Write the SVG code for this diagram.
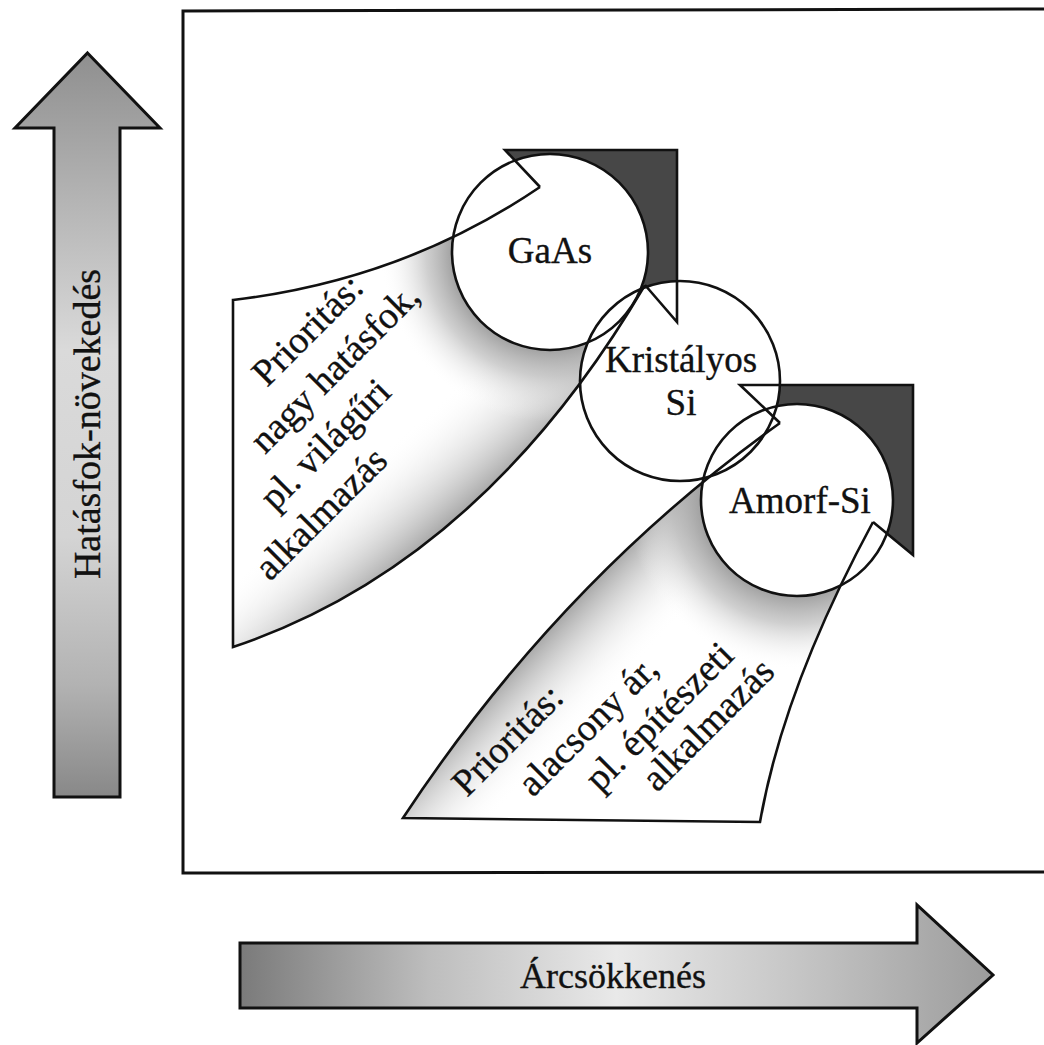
<svg xmlns="http://www.w3.org/2000/svg" width="1044" height="1045" viewBox="0 0 1044 1045">
<style>
  .lbl { font-family: "Liberation Serif", "Times New Roman", serif; fill: #111; stroke: #111; stroke-width: 0.35; }
  .big { font-size: 37px; }
  .rot { font-size: 38px; }
  .out { fill: none; stroke: #111; stroke-width: 2.6; stroke-linejoin: miter; }
  .ring { fill: none; stroke: #111; stroke-width: 2.6; }
  .cfill { fill: #fff; stroke: none; }
  .band { fill: #474747; stroke: none; }
  .arrow { stroke: #111; stroke-width: 3; stroke-linejoin: miter; }
</style>
<defs>
  <linearGradient id="gY" gradientUnits="userSpaceOnUse" x1="0" y1="53" x2="0" y2="797">
    <stop offset="0" stop-color="#8f8f8f"/>
    <stop offset="0.15" stop-color="#ababab"/>
    <stop offset="0.4" stop-color="#dadada"/>
    <stop offset="0.65" stop-color="#d4d4d4"/>
    <stop offset="0.85" stop-color="#b2b2b2"/>
    <stop offset="1" stop-color="#888888"/>
  </linearGradient>
  <linearGradient id="gX" gradientUnits="userSpaceOnUse" x1="240" y1="0" x2="993" y2="0">
    <stop offset="0" stop-color="#7a7a7a"/>
    <stop offset="0.25" stop-color="#bdbdbd"/>
    <stop offset="0.5" stop-color="#e9e9e9"/>
    <stop offset="0.75" stop-color="#c4c4c4"/>
    <stop offset="1" stop-color="#9c9c9c"/>
  </linearGradient>
  <linearGradient id="gHiLin" gradientUnits="userSpaceOnUse" x1="460" y1="515" x2="395" y2="440">
    <stop offset="0" stop-color="#a8a8a8" stop-opacity="1"/>
    <stop offset="1" stop-color="#ffffff" stop-opacity="0"/>
  </linearGradient>
  <radialGradient id="gHiRad" gradientUnits="userSpaceOnUse" cx="550" cy="252" r="200">
    <stop offset="0.48" stop-color="#9e9e9e" stop-opacity="1"/>
    <stop offset="0.62" stop-color="#bbbbbb" stop-opacity="0.7"/>
    <stop offset="0.85" stop-color="#ffffff" stop-opacity="0"/>
  </radialGradient>
  <linearGradient id="gLoLin" gradientUnits="userSpaceOnUse" x1="576" y1="600" x2="640" y2="660">
    <stop offset="0" stop-color="#a8a8a8" stop-opacity="1"/>
    <stop offset="1" stop-color="#ffffff" stop-opacity="0"/>
  </linearGradient>
  <radialGradient id="gLoRad" gradientUnits="userSpaceOnUse" cx="797" cy="500" r="200">
    <stop offset="0.47" stop-color="#9e9e9e" stop-opacity="1"/>
    <stop offset="0.62" stop-color="#bbbbbb" stop-opacity="0.7"/>
    <stop offset="0.85" stop-color="#ffffff" stop-opacity="0"/>
  </radialGradient>
</defs>

<rect x="0" y="0" width="1044" height="1045" fill="#fff"/>

<g id="frame">
  <polyline points="1044,9 183,11 183,873 1044,872" fill="none" stroke="#111" stroke-width="3"/>
</g>

<g id="axis-efficiency">
  <polygon class="arrow" fill="url(#gY)" points="87.5,53 160,128 120,128 120,797 54,797 54,128 15,128"/>
  <text class="lbl rot" text-anchor="middle" transform="translate(100,424) rotate(-90)">Hatásfok-növekedés</text>
</g>

<g id="axis-price">
  <polygon class="arrow" fill="url(#gX)" points="240,943 917,943 917,905 993,975 917,1043 917,1008 240,1008"/>
  <text class="lbl" font-size="36" text-anchor="middle" x="613" y="988">Árcsökkenés</text>
</g>

<g id="sector-high">
  <path d="M233,300 Q403,280 540,187 L550,252 L645,285 Q481,564 233,647 Z" fill="#fff"/>
  <path d="M233,300 Q403,280 540,187 L550,252 L645,285 Q481,564 233,647 Z" fill="url(#gHiLin)"/>
  <path d="M233,300 Q403,280 540,187 L550,252 L645,285 Q481,564 233,647 Z" fill="url(#gHiRad)"/>
</g>

<g id="sector-low">
  <path d="M403,818 L760,822 Q783.5,688 873,522 L797,500 L780,423 Q560,580 403,818 Z" fill="#fff"/>
  <path d="M403,818 L760,822 Q783.5,688 873,522 L797,500 L780,423 Q560,580 403,818 Z" fill="url(#gLoLin)"/>
  <path d="M403,818 L760,822 Q783.5,688 873,522 L797,500 L780,423 Q560,580 403,818 Z" fill="url(#gLoRad)"/>
</g>

<g id="band-gaas">
  <path class="band" d="M505,150 L677,150 L677,322 L645,285 L550,252 L540,187 Z"/>
</g>

<g id="band-amorf">
  <path class="band" d="M740,385 L913,385 L913,555 L873,522 L797,500 L780,423 Z"/>
</g>

<g id="circle-fills">
  <circle class="cfill" cx="550" cy="252" r="98"/>
  <circle class="cfill" cx="680" cy="381" r="100"/>
  <circle class="cfill" cx="797" cy="500" r="96"/>
</g>

<g id="outlines">
  <path class="out" d="M540,187 Q403,280 233,300 L233,647 Q481,564 645,285"/>
  <path class="out" d="M540,187 L505,150 L677,150 L677,322 L645,285"/>
  <path class="out" d="M780,423 Q560,580 403,818 L760,822 Q783.5,688 873,522"/>
  <path class="out" d="M873,522 L913,555 L913,385 L740,385 L780,423"/>
</g>

<g id="node-gaas">
  <circle class="ring" cx="550" cy="252" r="98"/>
  <text class="lbl big" text-anchor="middle" x="550" y="263">GaAs</text>
</g>

<g id="node-kristalyos">
  <circle class="ring" cx="680" cy="381" r="100"/>
  <text class="lbl big" text-anchor="middle" x="681" y="372">Kristályos</text>
  <text class="lbl big" text-anchor="middle" x="681" y="415">Si</text>
</g>

<g id="node-amorf">
  <circle class="ring" cx="797" cy="500" r="96"/>
  <text class="lbl big" text-anchor="middle" x="800" y="513">Amorf-Si</text>
</g>

<g id="text-high">
  <text class="lbl rot" transform="translate(267,388) rotate(-45)">Prioritás:</text>
  <text class="lbl rot" transform="translate(265,455) rotate(-45)">nagy hatásfok,</text>
  <text class="lbl rot" transform="translate(275,512) rotate(-45)">pl. világűri</text>
  <text class="lbl rot" transform="translate(270,582) rotate(-45)">alkalmazás</text>
</g>

<g id="text-low">
  <text class="lbl rot" transform="translate(467,798) rotate(-45)">Prioritás:</text>
  <text class="lbl rot" transform="translate(533,798) rotate(-45)">alacsony ár,</text>
  <text class="lbl rot" transform="translate(600,793) rotate(-45)">pl. építészeti</text>
  <text class="lbl rot" transform="translate(657,793) rotate(-45)">alkalmazás</text>
</g>
</svg>
